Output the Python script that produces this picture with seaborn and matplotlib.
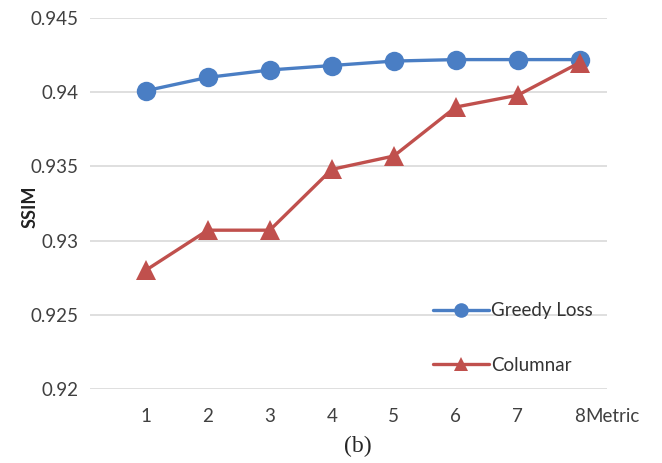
import matplotlib
matplotlib.use("Agg")
import matplotlib.pyplot as plt
import pandas as pd
import seaborn as sns

metric = [1, 2, 3, 4, 5, 6, 7, 8]
greedy_loss = [0.9401, 0.9410, 0.9415, 0.9418, 0.9421, 0.9422, 0.9422, 0.9422]
columnar = [0.9280, 0.9307, 0.9307, 0.9348, 0.9357, 0.9390, 0.9398, 0.9420]
series_names = ["Greedy Loss", "Columnar"]
yticks = [0.92, 0.925, 0.93, 0.935, 0.94, 0.945]
ytick_labels = ["0.92", "0.925", "0.93", "0.935", "0.94", "0.945"]

df = pd.DataFrame({
    "Metric": metric * 2,
    "SSIM": greedy_loss + columnar,
    "series": [series_names[0]] * len(metric) + [series_names[1]] * len(metric),
})

sns.set_style("white")
plt.rcParams["font.family"] = ["Lato", "DejaVu Sans"]

fig = plt.figure(figsize=(6.62, 4.63), dpi=100)
ax = fig.add_axes([0.136, 0.160, 0.781, 0.801])

colors = {"Greedy Loss": "#4A7EC4", "Columnar": "#C0504D"}
sns.lineplot(
    data=df, x="Metric", y="SSIM", hue="series", style="series",
    palette=colors, markers={"Greedy Loss": "o", "Columnar": "^"},
    dashes=False, linewidth=2.4, markersize=14, markeredgewidth=0,
    ax=ax,
)

ax.set_xlim(0.1, 8.44)
ax.set_ylim(0.92, 0.945)
ax.set_yticks(yticks)
ax.set_yticklabels(ytick_labels)
ax.set_xticks(metric)
ax.yaxis.grid(True, color="#D9D9D9", linewidth=1.2)
ax.set_axisbelow(True)
for s in ax.spines.values():
    s.set_visible(False)
ax.tick_params(axis="both", length=0, labelsize=13.5, colors="#404040", pad=8)
ax.tick_params(axis="x", pad=14)
ax.set_xlabel("")
ax.set_ylabel("SSIM", fontsize=13, fontweight="bold", color="#222222")
ax.yaxis.set_label_coords(-0.10, 0.49)
fig.text(0.884, 0.101, "Metric", fontsize=13.5, color="#404040", ha="left", va="center")

leg = ax.legend(
    loc="lower left", bbox_to_anchor=(0.63, -0.005), frameon=False,
    fontsize=13.5, labelspacing=2.0, handlelength=3.0, handletextpad=0.1,
    markerscale=0.75,
)
for t in leg.get_texts():
    t.set_color("#333333")

fig.text(0.54, 0.035, "(b)", fontsize=17, family="Liberation Serif", ha="center", va="center")

fig.savefig("out.png", dpi=100)
